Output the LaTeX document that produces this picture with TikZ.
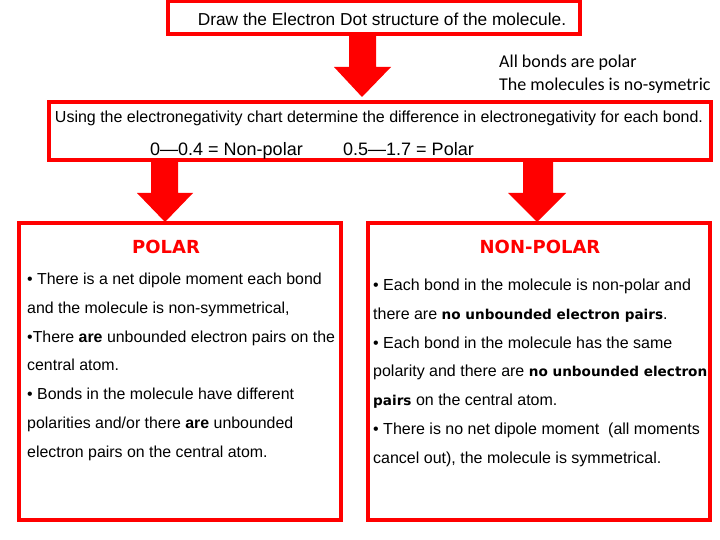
\documentclass[tikz,border=0pt]{standalone}
\usepackage{fontspec}
\setmainfont{Liberation Sans}
\newfontfamily\calib{Carlito}
\newfontfamily\headf{DejaVu Sans}
\newcommand{\vb}[1]{{\headf\bfseries\fontsize{13.6}{16}\selectfont #1}}
\begin{document}
\begin{tikzpicture}[x=1pt,y=-1pt,
  redbox/.style={draw=red,line width=3.5pt,inner sep=0pt},
  blockarrow/.style={fill=red,draw=none},
  ltxt/.style={anchor=base west,inner sep=0pt,font=\fontsize{15.9}{17}\selectfont},
  rtxt/.style={anchor=base west,inner sep=0pt,font=\fontsize{16}{18}\selectfont},
  head/.style={anchor=base,inner sep=0pt,text=red,font=\headf\bfseries\fontsize{18}{20}\selectfont}]
\useasboundingbox (0,0) rectangle (720,540);
% boxes
\draw[redbox] (168,1) rectangle (580,34);
\draw[redbox] (49,102) rectangle (711,160);
\draw[redbox] (19,223) rectangle (341,520);
\draw[redbox] (368,223) rectangle (710,520);
% arrows
\fill[blockarrow] (349,36) -- (376,36) -- (376,67) -- (391,67) -- (362,97) -- (334,67) -- (349,67) -- cycle;
\fill[blockarrow] (151,162) -- (178,162) -- (178,193) -- (193,193) -- (165,222) -- (137,193) -- (151,193) -- cycle;
\fill[blockarrow] (523,162) -- (553,162) -- (553,193) -- (566,193) -- (537,222) -- (508,193) -- (523,193) -- cycle;
% top text
\node[anchor=base,inner sep=0pt,font=\fontsize{17.3}{19}\selectfont] (t1) at (382,26) {Draw the Electron Dot structure of the molecule.};
\node[anchor=base west,inner sep=0pt,font=\calib\fontsize{18}{20}\selectfont] (c1) at (499,68) {All bonds are polar};
\node[anchor=base west,inner sep=0pt,font=\calib\fontsize{18}{20}\selectfont] (c2) at (499,91) {The molecules is no-symetric};
\node[anchor=base,inner sep=0pt,font=\fontsize{16}{18}\selectfont] (u1) at (379,123) {Using the electronegativity chart determine the difference in electronegativity for each bond.};
\node[anchor=base west,inner sep=0pt,font=\fontsize{18}{20}\selectfont] (r1) at (150,155.5) {0\textemdash0.4 = Non-polar};
\node[anchor=base west,inner sep=0pt,font=\fontsize{18}{20}\selectfont] (r2) at (343,155.5) {0.5\textemdash1.7 = Polar};
% headings
\node[head] (hp) at (166,253) {POLAR};
\node[head] (hn) at (540,253) {NON-POLAR};
% left text
\node[ltxt] at (27,284.5) {\textbullet{} There is a net dipole moment each bond};
\node[ltxt] at (27,313.5) {and the molecule is non-symmetrical,};
\node[ltxt] at (27,342.5) {\textbullet There \textbf{are} unbounded electron pairs on the};
\node[ltxt] at (27,370.5) {central atom.};
\node[ltxt] at (27,399.5) {\textbullet{} Bonds in the molecule have different};
\node[ltxt] at (27,428.5) {polarities and/or there \textbf{are} unbounded};
\node[ltxt] at (27,457.5) {electron pairs on the central atom.};
% right text
\node[rtxt] at (373,290.5) {\textbullet{} Each bond in the molecule is non-polar and};
\node[rtxt] at (373,319.5) {there are \vb{no unbounded electron pairs}.};
\node[rtxt] at (373,348.5) {\textbullet{} Each bond in the molecule has the same};
\node[rtxt] at (373,376.5) {polarity and there are \vb{no unbounded electron}};
\node[rtxt] at (373,405.5) {\vb{pairs} on the central atom.};
\node[rtxt] at (373,434.5) {\textbullet{} There is no net dipole moment\ \ (all moments};
\node[rtxt] at (373,463.5) {cancel out), the molecule is symmetrical.};
\end{tikzpicture}
\end{document}
